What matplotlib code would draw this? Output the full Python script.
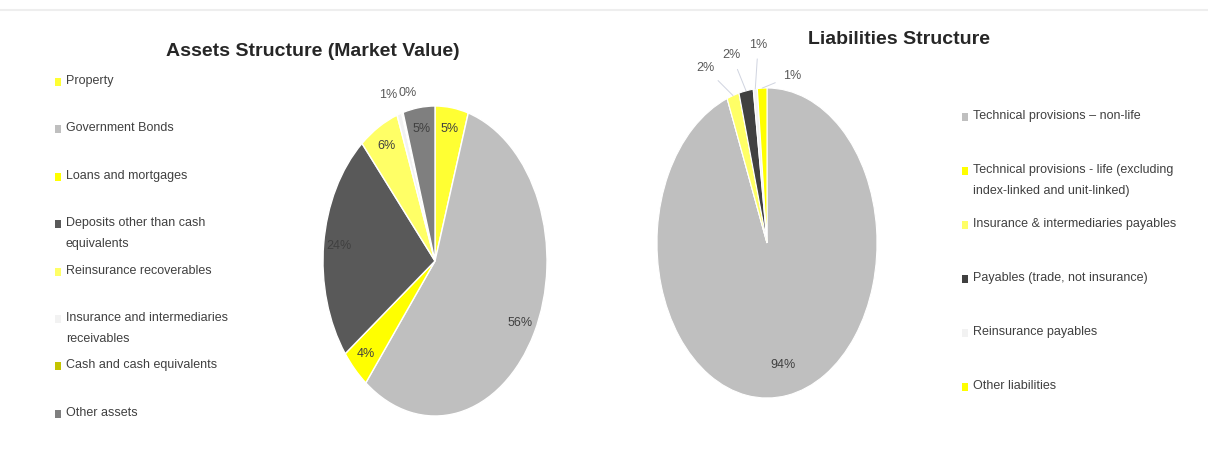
import matplotlib
matplotlib.use("Agg")
import matplotlib.pyplot as plt
from matplotlib import font_manager
from matplotlib.patches import Rectangle
from matplotlib.lines import Line2D
import numpy as np

# ---------------- data ----------------
asset_labels = ["Property", "Government Bonds", "Loans and mortgages",
                "Deposits other than cash\nequivalents", "Reinsurance recoverables",
                "Insurance and intermediaries\nreceivables", "Cash and cash equivalents",
                "Other assets"]
asset_values = [4.8, 55.8, 4.2, 23.9, 5.8, 0.7, 0.2, 4.6]
asset_pct_text = ["5%", "56%", "4%", "24%", "6%", "1%", "0%", "5%"]
asset_colors = ["#ffff33", "#bfbfbf", "#ffff00", "#595959", "#ffff66",
                "#f2f2f2", "#c4c400", "#7f7f7f"]

liab_labels = ["Technical provisions \u2013 non-life",
               "Technical provisions - life (excluding\nindex-linked and unit-linked)",
               "Insurance & intermediaries payables",
               "Payables (trade, not insurance)",
               "Reinsurance payables",
               "Other liabilities"]
liab_values = [94.1, 0.0, 1.8, 2.1, 0.6, 1.4]
liab_pct_text = ["94%", "", "2%", "2%", "1%", "1%"]
liab_colors = ["#bfbfbf", "#ffff00", "#ffff66", "#404040", "#f2f2f2", "#ffff00"]

assets_title = "Assets Structure (Market Value)"
liab_title = "Liabilities Structure"

# ---------------- fonts ----------------
names = {f.name for f in font_manager.fontManager.ttflist}
if "Liberation Sans Narrow" in names:
    FONT = ["Liberation Sans Narrow", "DejaVu Sans"]
else:
    FONT = ["Liberation Sans", "DejaVu Sans"]
plt.rcParams["font.family"] = FONT

W, H = 1208, 450
fig = plt.figure(figsize=(W / 100, H / 100), dpi=100)
fig.patch.set_facecolor("white")


def box(cx, cy, rx, ry):
    return [(cx - rx) / W, (H - cy - ry) / H, 2 * rx / W, 2 * ry / H]


def fx(px):
    return px / W


def fy(py):
    return 1 - py / H


# faint frame line at the top
fig.add_artist(Line2D([0.0, 1.0], [fy(10), fy(10)], color="#eeeeee", lw=1.5,
                      transform=fig.transFigure))

TXT = "#404040"

# ---------------- assets pie ----------------
ax1 = fig.add_axes(box(435, 261, 112, 155))
w1, _ = ax1.pie(asset_values, colors=asset_colors, startangle=90, counterclock=False,
                wedgeprops=dict(edgecolor="white", linewidth=1.0))
ax1.set_aspect("auto")
ax1.set_xlim(-1, 1)
ax1.set_ylim(-1, 1)
ax1.axis("off")
for i, (w, t) in enumerate(zip(w1, asset_pct_text)):
    mid = np.deg2rad((w.theta1 + w.theta2) / 2)
    if asset_values[i] < 2:
        r = 1.13
        ha = "right" if i == 5 else "left"
        ax1.text(r * np.cos(mid) + (0.02 if i == 5 else 0.0), r * np.sin(mid), t,
                 ha=ha, va="center", fontsize=9, color="#595959")
    else:
        r = 0.86
        ax1.text(r * np.cos(mid), r * np.sin(mid), t, ha="center", va="center",
                 fontsize=9, color=TXT)

# ---------------- liabilities pie ----------------
ax2 = fig.add_axes(box(767, 243, 110, 155))
w2, _ = ax2.pie(liab_values, colors=liab_colors, startangle=90, counterclock=False,
                wedgeprops=dict(edgecolor="white", linewidth=0.8))
ax2.set_aspect("auto")
ax2.set_xlim(-1, 1)
ax2.set_ylim(-1, 1)
ax2.axis("off")
# outside label placement (layout only), for the small slices in order
out_pos = {2: (-0.56, 1.13), 3: (-0.32, 1.21), 4: (-0.08, 1.28), 5: (0.23, 1.08)}
for i, (w, t) in enumerate(zip(w2, liab_pct_text)):
    if not t:
        continue
    mid = np.deg2rad((w.theta1 + w.theta2) / 2)
    if i in out_pos:
        tx, ty = out_pos[i]
        ax2.annotate(t, xy=(np.cos(mid), np.sin(mid)), xytext=(tx, ty),
                     ha="center", va="center", fontsize=9, color="#595959",
                     arrowprops=dict(arrowstyle="-", color="#d0d4e0", lw=0.7,
                                     shrinkA=4, shrinkB=0))
    else:
        r = 0.8
        ax2.text(r * np.cos(mid), r * np.sin(mid), t, ha="center", va="center",
                 fontsize=9, color=TXT)

# ---------------- titles ----------------
fig.text(fx(313), fy(52), assets_title, ha="center", va="center", fontsize=14,
         fontweight="bold", color="#262626")
fig.text(fx(899), fy(40), liab_title, ha="center", va="center", fontsize=14,
         fontweight="bold", color="#262626")


# ---------------- legends ----------------
def legend(labels, colors, x_marker, x_text, y0, step):
    for i, (lab, col) in enumerate(zip(labels, colors)):
        y = y0 + i * step
        fig.add_artist(Rectangle((fx(x_marker), fy(y + 4)), 6 / W, 8 / H,
                                 transform=fig.transFigure, facecolor=col,
                                 edgecolor="none"))
        fig.text(fx(x_text), fy(y - 7), lab, ha="left", va="top", fontsize=9,
                 color=TXT, linespacing=1.95)


legend(asset_labels, asset_colors, 55, 66, 82, 47.4)
legend(liab_labels, liab_colors, 962, 973, 117, 54)

fig.savefig("out.png", dpi=100, facecolor="white")
